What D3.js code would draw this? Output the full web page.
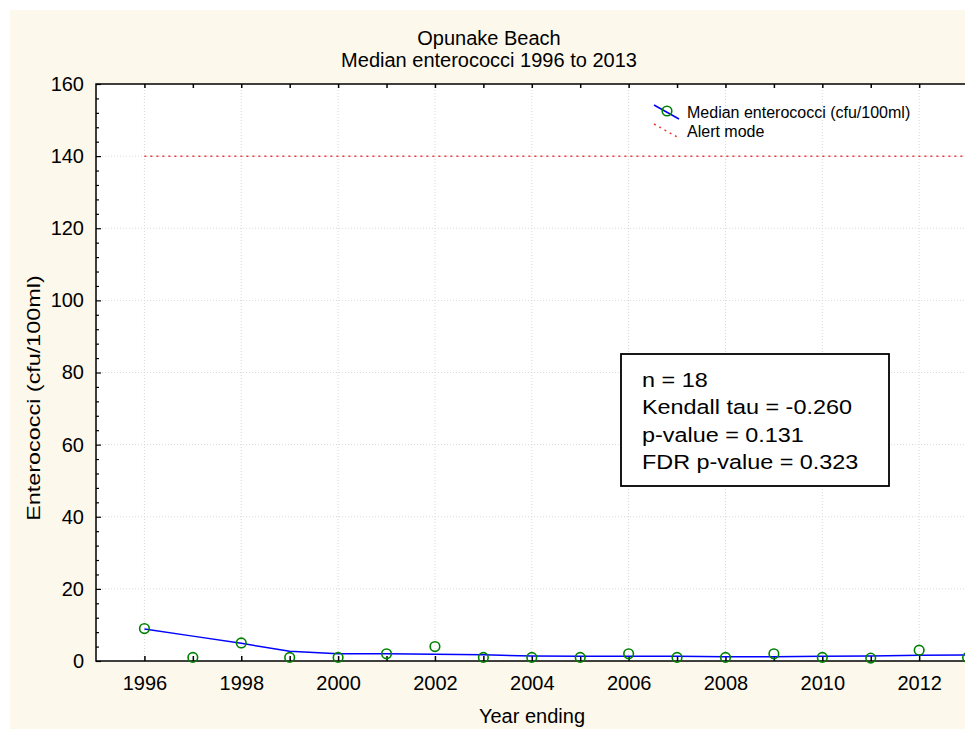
<!DOCTYPE html>
<html>
<head>
<meta charset="utf-8">
<script src="https://cdn.jsdelivr.net/npm/d3@7"></script>
<style>
    body { margin: 0; background: #fff; }
    text { font-family: "Liberation Sans", Arial, sans-serif; fill: #000; }
</style>
</head>
<body>
<svg id="chart" width="965" height="729"></svg>
<script>
    var years = [1996, 1997, 1998, 1999, 2000, 2001, 2002, 2003, 2004,
                 2005, 2006, 2007, 2008, 2009, 2010, 2011, 2012, 2013];
    var medians = [9, 1, 5, 1, 1, 2, 4, 1, 1, 1, 2, 1, 1, 2, 1, 0.8, 3, 1];
    var trend = [8.9, 6.9, 4.9, 2.7, 2.0, 2.0, 1.9, 1.7, 1.4, 1.3,
                 1.3, 1.3, 1.2, 1.2, 1.3, 1.4, 1.6, 1.7];
    var alertLevel = 140;
    var yTicks = [0, 20, 40, 60, 80, 100, 120, 140, 160];
    var xTicks = [1996, 1998, 2000, 2002, 2004, 2006, 2008, 2010, 2012];
    var titleLines = ["Opunake Beach", "Median enterococci 1996 to 2013"];
    var legendLabels = ["Median enterococci (cfu/100ml)", "Alert mode"];
    var statsLines = ["n = 18", "Kendall tau = -0.260", "p-value = 0.131", "FDR p-value = 0.323"];

    var svg = d3.select("#chart"),
        width = +svg.attr("width"),
        height = +svg.attr("height");

    // plot box (right side runs past the window like the original)
    var pLeft = 96, pTop = 84, pBottom = 661, pRight = 1016;

    var x = d3.scaleLinear().domain([1995, 2014]).range([pLeft, pRight]);
    var y = d3.scaleLinear().domain([0, 160]).range([pBottom, pTop]);

    // cream page and white plot area
    svg.append("rect").attr("x", 10).attr("y", 10)
        .attr("width", width - 10).attr("height", height - 10)
        .attr("fill", "#fdf8ec");
    svg.append("rect").attr("x", pLeft).attr("y", pTop)
        .attr("width", pRight - pLeft).attr("height", pBottom - pTop)
        .attr("fill", "#fff");

    // titles
    svg.selectAll(".title").data(titleLines).enter().append("text")
        .attr("class", "title")
        .attr("x", 489)
        .attr("y", function (d, i) { return 45 + i * 22; })
        .attr("text-anchor", "middle")
        .style("font-size", "20px")
        .text(function (d) { return d; });

    // grid
    var grid = svg.append("g").attr("stroke", "#d9d9d9").attr("stroke-dasharray", "1,2");
    grid.selectAll(".vg").data(xTicks).enter().append("line")
        .attr("x1", function (d) { return x(d); }).attr("x2", function (d) { return x(d); })
        .attr("y1", pTop).attr("y2", pBottom);
    grid.selectAll(".hg").data(yTicks.slice(1, -1)).enter().append("line")
        .attr("x1", pLeft).attr("x2", pRight)
        .attr("y1", function (d) { return y(d); }).attr("y2", function (d) { return y(d); });

    // alert line
    svg.append("line")
        .attr("x1", x(years[0])).attr("x2", pRight)
        .attr("y1", y(alertLevel)).attr("y2", y(alertLevel))
        .attr("stroke", "#f03a3a").attr("stroke-width", 1.5)
        .attr("stroke-dasharray", "2,4");

    // axes: ticks point inward
    var yAxis = d3.axisRight(y).tickValues(d3.range(0, 161, 4)).tickFormat("")
        .tickSizeOuter(0).tickSize(3);
    svg.append("g").attr("transform", "translate(" + pLeft + ",0)").call(yAxis)
        .call(function (g) {
            g.select(".domain").remove();
            g.selectAll(".tick line").attr("stroke-width", 1.2)
                .attr("x2", function (d) { return d % 20 === 0 ? 5 : 3; });
        });

    var yLabels = d3.axisLeft(y).tickValues(yTicks).tickSize(0).tickPadding(12);
    svg.append("g").attr("transform", "translate(" + pLeft + ",0)").call(yLabels)
        .call(function (g) {
            g.select(".domain").remove();
            g.selectAll("text").style("font-size", "20px")
                .style("font-family", "'Liberation Sans', Arial, sans-serif");
        });

    var xAxis = d3.axisTop(x).tickValues(years).tickFormat("").tickSizeOuter(0).tickSize(5);
    svg.append("g").attr("transform", "translate(0," + pBottom + ")").call(xAxis)
        .call(function (g) {
            g.select(".domain").remove();
            g.selectAll(".tick line").attr("stroke-width", 1.5);
        });
    var xTop = d3.axisBottom(x).tickValues(years).tickFormat("").tickSizeOuter(0).tickSize(4);
    svg.append("g").attr("transform", "translate(0," + pTop + ")").call(xTop)
        .call(function (g) {
            g.select(".domain").remove();
            g.selectAll(".tick line").attr("stroke-width", 1.5);
        });

    var xLabels = d3.axisBottom(x).tickValues(xTicks).tickFormat(d3.format("d"))
        .tickSize(0).tickPadding(15);
    svg.append("g").attr("transform", "translate(0," + pBottom + ")").call(xLabels)
        .call(function (g) {
            g.select(".domain").remove();
            g.selectAll("text").style("font-size", "20px")
                .style("font-family", "'Liberation Sans', Arial, sans-serif");
        });

    // frame
    svg.append("rect").attr("x", pLeft).attr("y", pTop)
        .attr("width", pRight - pLeft).attr("height", pBottom - pTop)
        .attr("fill", "none").attr("stroke", "#000").attr("stroke-width", 1.5);

    // axis titles (y title is stretched along its length, as in the original)
    svg.append("text")
        .attr("transform", "translate(40,398) rotate(-90) scale(1.3,1)")
        .attr("text-anchor", "middle")
        .style("font-size", "18px")
        .text("Enterococci (cfu/100ml)");
    svg.append("text")
        .attr("x", 532).attr("y", 723)
        .attr("text-anchor", "middle")
        .style("font-size", "20px")
        .text("Year ending");

    // trend line and points
    var line = d3.line()
        .x(function (d, i) { return x(years[i]); })
        .y(function (d) { return y(d); });
    svg.append("path")
        .attr("d", line(trend))
        .attr("fill", "none")
        .attr("stroke", "#0000ff")
        .attr("stroke-width", 1.5);

    svg.selectAll(".pt").data(medians).enter().append("circle")
        .attr("class", "pt")
        .attr("cx", function (d, i) { return x(years[i]); })
        .attr("cy", function (d) { return y(d); })
        .attr("r", 4.8)
        .attr("fill", "none")
        .attr("stroke", "#008000")
        .attr("stroke-width", 1.6);

    // legend
    var legend = svg.append("g");
    legend.append("line").attr("x1", 654).attr("y1", 105).attr("x2", 679).attr("y2", 119)
        .attr("stroke", "#0000ff").attr("stroke-width", 1.5);
    legend.append("circle").attr("cx", 667).attr("cy", 111).attr("r", 4.8)
        .attr("fill", "none").attr("stroke", "#008000").attr("stroke-width", 1.6);
    legend.append("line").attr("x1", 654).attr("y1", 124).attr("x2", 679).attr("y2", 138)
        .attr("stroke", "#f03a3a").attr("stroke-width", 1.5).attr("stroke-dasharray", "2,4");
    legend.selectAll("text").data(legendLabels).enter().append("text")
        .attr("x", 687)
        .attr("y", function (d, i) { return 118 + i * 19; })
        .style("font-size", "16px")
        .text(function (d) { return d; });

    // stats box
    svg.append("rect").attr("x", 621).attr("y", 354).attr("width", 268).attr("height", 132)
        .attr("fill", "#fff").attr("stroke", "#000").attr("stroke-width", 1.8);
    var stats = svg.append("g").attr("transform", "translate(642,0) scale(1.2,1)");
    stats.selectAll("text").data(statsLines).enter().append("text")
        .attr("x", 0)
        .attr("y", function (d, i) { return 387 + i * 27.3; })
        .style("font-size", "19.5px")
        .text(function (d) { return d; });
</script>
</body>
</html>
